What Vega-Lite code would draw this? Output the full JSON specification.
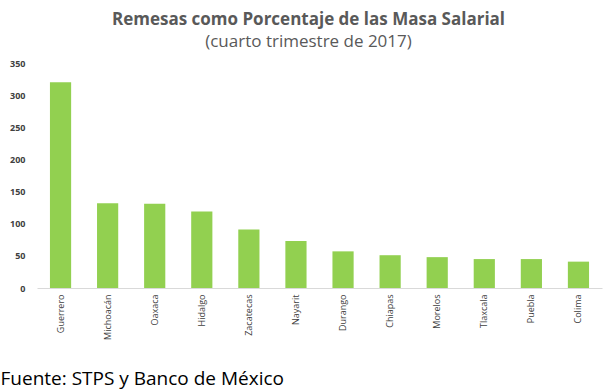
{
  "$schema": "https://vega.github.io/schema/vega-lite/v6.json",
  "autosize": "none",
  "padding": {"left": 37, "top": 63, "right": 12, "bottom": 104},
  "width": 565,
  "height": 225,
  "background": "white",
  "config": {"view": {"stroke": null}},
  "title": {
    "text": "Remesas como Porcentaje de las Masa Salarial",
    "subtitle": "(cuarto trimestre de 2017)",
    "anchor": "middle",
    "dx": -11,
    "offset": 8,
    "font": "Open Sans",
    "fontSize": 17,
    "fontWeight": "bold",
    "color": "#595959",
    "subtitleFont": "Open Sans",
    "subtitleFontSize": 17,
    "subtitleColor": "#595959",
    "subtitlePadding": 5
  },
  "data": {
    "values": [
      {"estado": "Guerrero", "valor": 320},
      {"estado": "Michoacán", "valor": 132},
      {"estado": "Oaxaca", "valor": 131},
      {"estado": "Hidalgo", "valor": 119},
      {"estado": "Zacatecas", "valor": 91},
      {"estado": "Nayarit", "valor": 73},
      {"estado": "Durango", "valor": 57},
      {"estado": "Chiapas", "valor": 51},
      {"estado": "Morelos", "valor": 48},
      {"estado": "Tlaxcala", "valor": 45},
      {"estado": "Puebla", "valor": 45},
      {"estado": "Colima", "valor": 41}
    ]
  },
  "mark": {"type": "bar", "color": "#92D050"},
  "encoding": {
    "x": {
      "field": "estado",
      "type": "nominal",
      "sort": null,
      "scale": {"paddingInner": 0.55, "paddingOuter": 0.275},
      "axis": {
        "title": "Fuente: STPS y Banco de México",
        "titleFont": "Open Sans",
        "titleFontSize": 19,
        "titleFontWeight": "normal",
        "titleColor": "#000000",
        "titleAlign": "left",
        "titleBaseline": "alphabetic",
        "titleAnchor": "start",
        "titleX": -37,
        "titleY": 96,
        "labelAngle": -90,
        "labelFont": "Open Sans",
        "labelFontSize": 9,
        "labelColor": "#404040",
        "labelPadding": 6,
        "ticks": false,
        "domainColor": "#d9d9d9",
        "domainWidth": 1
      }
    },
    "y": {
      "field": "valor",
      "type": "quantitative",
      "scale": {"domain": [0, 350]},
      "axis": {
        "title": null,
        "values": [0, 50, 100, 150, 200, 250, 300, 350],
        "grid": false,
        "domain": false,
        "ticks": false,
        "labelFont": "Open Sans",
        "labelFontSize": 9,
        "labelFontWeight": "bold",
        "labelColor": "#404040",
        "labelPadding": 12
      }
    }
  }
}
